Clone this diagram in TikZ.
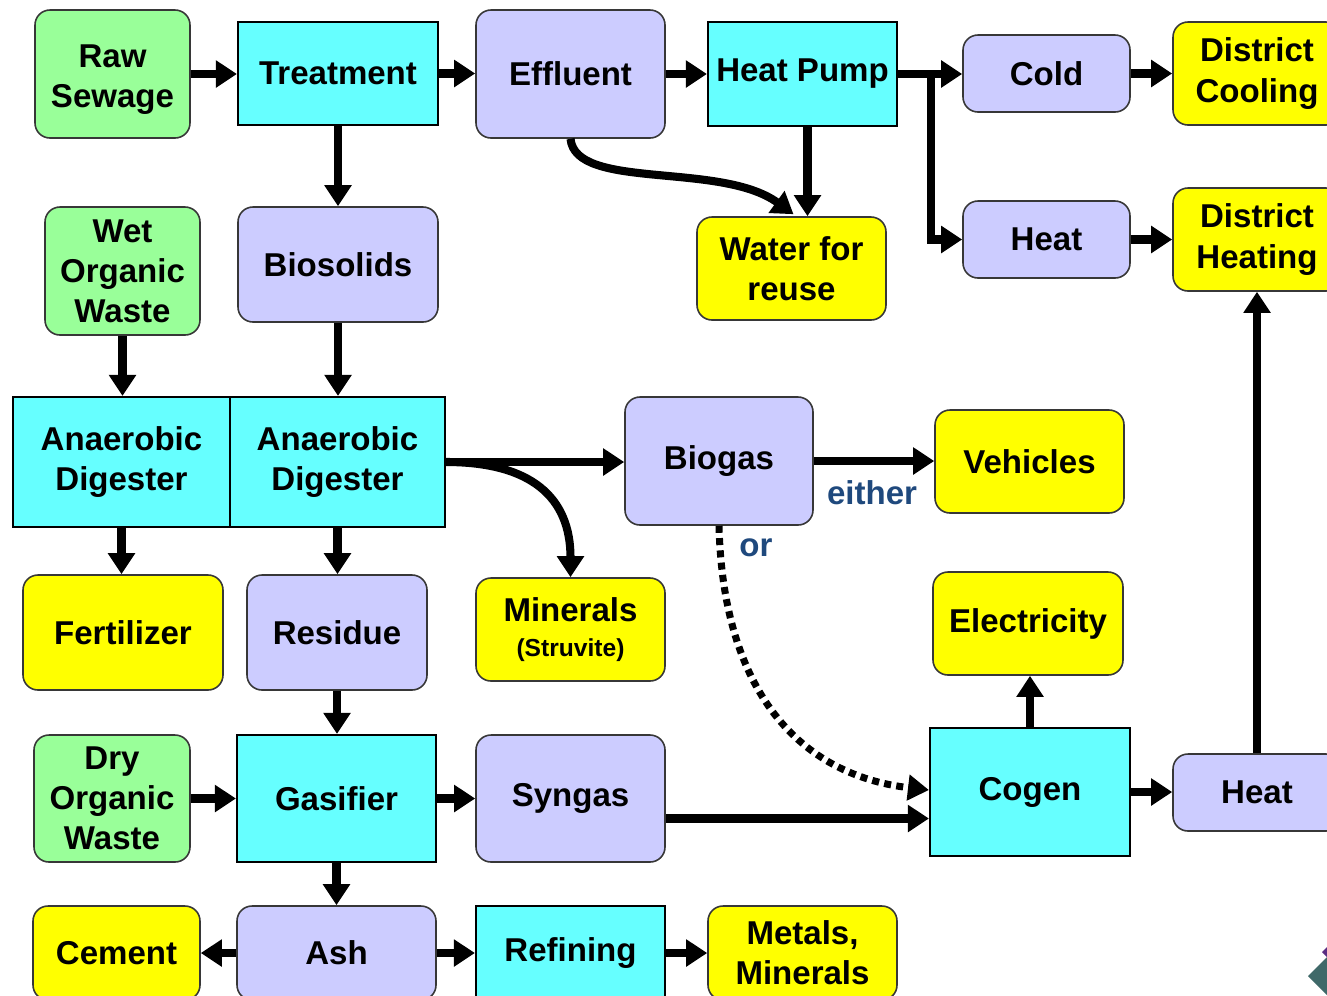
\documentclass[tikz,border=0pt]{standalone}
\usepackage{fontspec}
\setmainfont{Liberation Sans}
\usetikzlibrary{arrows.meta,calc}
\definecolor{cgreen}{RGB}{153,255,153}
\definecolor{ccyan}{RGB}{102,255,255}
\definecolor{clav}{RGB}{204,204,255}
\definecolor{cyel}{RGB}{255,255,0}
\definecolor{cblue}{RGB}{31,73,125}
\definecolor{cedge}{RGB}{55,55,55}
\definecolor{logoteal}{RGB}{63,105,105}
\definecolor{logopurple}{RGB}{90,45,130}
\newcommand{\boxfont}{\fontsize{18.8}{22.8}\selectfont\bfseries}
\newcommand{\smallboxfont}{\fontsize{14}{16}\selectfont\bfseries}
\newcommand{\placebox}[7]{\node[#2, minimum width={(#5-#3)*0.02cm}, minimum height={(#6-#4)*0.02cm}] (#1) at ({(#3+#5)/2},{(#4+#6)/2}) {#7};}
\begin{document}
\begin{tikzpicture}[x=0.02cm,y=-0.02cm,
  basebox/.style={align=center, inner sep=0pt, font=\boxfont, text=black},
  rbox/.style={basebox, draw=cedge, line width=0.9pt, rounded corners=0.3cm},
  sbox/.style={basebox, draw=black, line width=1.2pt},
  gbox/.style={rbox, fill=cgreen},
  lbox/.style={rbox, fill=clav},
  ybox/.style={rbox, fill=cyel},
  cbox/.style={sbox, fill=ccyan},
  arr/.style={draw=black, line width=4.6pt, -{Triangle[length=0.42cm,width=0.52cm]}},
  darr/.style={draw=black, line width=4pt, dash pattern=on 4pt off 3pt, -{Triangle[length=0.42cm,width=0.5cm]}},
  lbl/.style={font=\boxfont, text=cblue, inner sep=0pt}
]
\useasboundingbox (0,0) rectangle (1327,995);
\fill[white] (0,0) rectangle (1327,995);
\clip (0,0) rectangle (1327,995);

\placebox{raw}{gbox}{35}{10}{190}{138}{\rule{0pt}{19pt}Raw\\Sewage}
\placebox{treat}{cbox}{238}{22}{438}{125}{Treatment}
\placebox{eff}{lbox}{476}{10}{665}{138}{Effluent}
\placebox{hp}{cbox}{708}{22}{897}{126}{Heat Pump}
\placebox{cold}{lbox}{963}{35}{1130}{112}{Cold}
\placebox{dcool}{ybox}{1173}{22}{1341}{125}{District\\Cooling}
\placebox{heatA}{lbox}{963}{201}{1130}{278}{Heat}
\placebox{dheat}{ybox}{1173}{188}{1341}{291}{District\\Heating}
\placebox{water}{ybox}{697}{217}{886}{320}{Water for\\reuse}
\placebox{wet}{gbox}{45}{207}{200}{335}{Wet\\Organic\\Waste}
\placebox{bios}{lbox}{238}{207}{438}{322}{Biosolids}
\placebox{adA}{cbox}{13}{397}{230}{527}{Anaerobic\\Digester}
\placebox{adB}{cbox}{230}{397}{445}{527}{Anaerobic\\Digester}
\placebox{biogas}{lbox}{625}{397}{813}{525}{Biogas}
\placebox{veh}{ybox}{935}{410}{1124}{513}{Vehicles}
\placebox{fert}{ybox}{23}{575}{223}{690}{Fertilizer}
\placebox{res}{lbox}{247}{575}{427}{690}{Residue}
\placebox{minr}{ybox}{476}{578}{665}{681}{Minerals\\[-3pt]{\smallboxfont (Struvite)}}
\placebox{elec}{ybox}{933}{572}{1123}{675}{Electricity}
\placebox{dry}{gbox}{34}{735}{190}{862}{Dry\\Organic\\Waste}
\placebox{gas}{cbox}{237}{735}{436}{862}{Gasifier}
\placebox{syn}{lbox}{476}{735}{665}{862}{Syngas}
\placebox{cogen}{cbox}{930}{728}{1130}{856}{Cogen}
\placebox{heatB}{lbox}{1173}{754}{1341}{831}{Heat}
\placebox{cem}{ybox}{33}{906}{200}{1000}{Cement}
\placebox{ash}{lbox}{237}{906}{436}{1000}{Ash}
\placebox{ref}{cbox}{476}{906}{665}{1000}{Refining}
\placebox{met}{ybox}{708}{906}{897}{1000}{Metals,\\Minerals}

\node[lbl] (either) at (872,493) {either};
\node[lbl] (orl) at (756,548) {or};

% connectors
\draw[arr] (raw.east) -- (raw.east -| treat.west);
\draw[arr] (treat.east) -- (treat.east -| eff.west);
\draw[arr] (eff.east) -- (eff.east -| hp.west);
\draw[arr] (hp.east) -- (hp.east -| cold.west);
\coordinate (br) at ($(hp.east)+(33,0)$);
\draw[arr] (br) |- (heatA.west);
\draw[arr] (cold.east) -- (cold.east -| dcool.west);
\draw[arr] (heatA.east) -- (heatA.east -| dheat.west);
\coordinate (hpw) at ($(hp.south)+(5,0)$);
\draw[arr] (hpw) -- (hpw |- water.north);
\coordinate (wtip) at ($(water.north)+(2,-2)$);
\draw[arr] (eff.south) .. controls +(5,52) and +(-73,-53) .. (wtip);
\draw[arr] (treat.south) -- (treat.south |- bios.north);
\draw[arr] (wet.south) -- (wet.south |- adA.north);
\draw[arr] (bios.south) -- (bios.south |- adB.north);
\draw[arr] (adB.east) -- (adB.east -| biogas.west);
\draw[arr] (adB.east) .. controls +(85,0) and +(0,-80) .. (minr.north);
\draw[arr] (adA.south) -- (adA.south |- fert.north);
\draw[arr] (adB.south) -- (adB.south |- res.north);
\draw[arr] (biogas.east) -- (biogas.east -| veh.west);
\coordinate (cogD) at ($(cogen.west)+(0,-2)$);
\draw[darr] (biogas.south) .. controls +(4,165) and +(-130,-15) .. (cogD);
\draw[arr] (res.south) -- (res.south |- gas.north);
\draw[arr] (dry.east) -- (dry.east -| gas.west);
\draw[arr] (gas.east) -- (gas.east -| syn.west);
\coordinate (synE) at ($(syn.east)+(0,20)$);
\draw[arr] (synE) -- (synE -| cogen.west);
\draw[arr] (cogen.north) -- (cogen.north |- elec.south);
\draw[arr] (cogen.east) -- (cogen.east -| heatB.west);
\draw[arr] (heatB.north) -- (heatB.north |- dheat.south);
\draw[arr] (gas.south) -- (gas.south |- ash.north);
\draw[arr] (ash.west) -- (ash.west -| cem.east);
\draw[arr] (ash.east) -- (ash.east -| ref.west);
\draw[arr] (ref.east) -- (ref.east -| met.west);

% corner logo fragment
\fill[logoteal] (1308,976) -- (1327,957) -- (1346,976) -- (1327,995) -- cycle;
\fill[logopurple] (1322,952) -- (1327,947) -- (1332,952) -- (1327,957) -- cycle;
\end{tikzpicture}
\end{document}
